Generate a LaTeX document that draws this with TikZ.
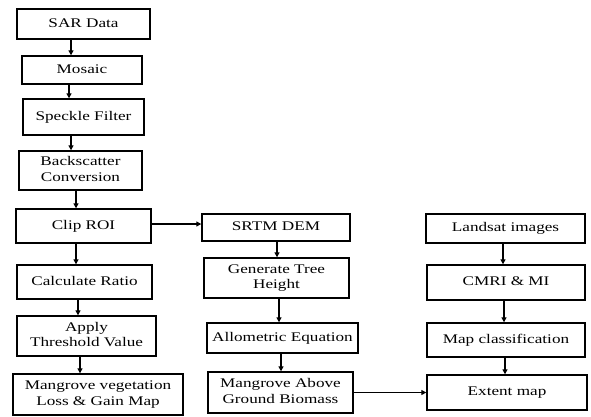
\documentclass[tikz,border=0pt]{standalone}
\usepackage{fontspec}
\setmainfont{Liberation Serif}
\usetikzlibrary{arrows.meta,calc}
\newcommand{\wtxt}[1]{\scalebox{1.3}[1]{\begin{tabular}{@{}c@{}}#1\end{tabular}}}
\begin{document}
\begin{tikzpicture}[x=1pt,y=-1pt,
  box/.style={draw=black,line width=1.4pt,inner sep=0pt,align=center,
    font=\rmfamily\fontsize{13.2}{15.5}\selectfont},
  arr/.style={line width=1.3pt,-{Triangle[length=5pt,width=5pt]}}]
\useasboundingbox[fill=white] (0,0) rectangle (591,416);
% left column
\node[box,minimum width=133pt,minimum height=30pt] (sar) at (83.5,24) {\wtxt{SAR Data}};
\node[box,minimum width=120pt,minimum height=28pt] (mos) at (82,70) {\wtxt{Mosaic}};
\node[box,minimum width=121pt,minimum height=36pt] (spk) at (83.5,117) {\wtxt{Speckle Filter}};
\node[box,minimum width=123pt,minimum height=39pt] (bsc) at (80.5,170.5) {\wtxt{Backscatter\\Conversion}};
\node[box,minimum width=135pt,minimum height=34pt] (clip) at (83.5,226) {\wtxt{Clip ROI}};
\node[box,minimum width=135pt,minimum height=34pt] (calc) at (84.5,282) {\wtxt{Calculate Ratio}};
\node[box,minimum width=139pt,minimum height=40pt] (thr) at (86.5,336) {\wtxt{Apply\\Threshold Value}};
\node[box,minimum width=170pt,minimum height=41pt] (veg) at (98,394.5) {\wtxt{Mangrove vegetation\\Loss \& Gain Map}};
% middle column
\node[box,minimum width=148pt,minimum height=27pt] (srtm) at (276,227.5) {\wtxt{SRTM DEM}};
\node[box,minimum width=145pt,minimum height=40pt] (gen) at (276.5,278) {\wtxt{Generate Tree\\Height}};
\node[box,minimum width=151pt,minimum height=30pt] (allo) at (282.5,338) {\wtxt{Allometric Equation}};
\node[box,minimum width=145pt,minimum height=41pt] (agb) at (280.5,392.5) {\wtxt{Mangrove Above\\Ground Biomass}};
% right column
\node[box,minimum width=159pt,minimum height=29pt] (land) at (505.5,228.5) {\wtxt{Landsat images}};
\node[box,minimum width=158pt,minimum height=35pt] (cmri) at (506,282.5) {\wtxt{CMRI \& MI}};
\node[box,minimum width=158pt,minimum height=34pt] (mcls) at (506,340) {\wtxt{Map classification}};
\node[box,minimum width=160pt,minimum height=35pt] (ext) at (507,392.5) {\wtxt{Extent map}};
% vertical arrows, left column
\draw[arr] ([xshift=-12.5pt]sar.south) -- ([xshift=-12.5pt]sar.south |- mos.north);
\draw[arr] ([xshift=-13pt]mos.south) -- ([xshift=-13pt]mos.south |- spk.north);
\draw[arr] ([xshift=-12.5pt]spk.south) -- ([xshift=-12.5pt]spk.south |- bsc.north);
\draw[arr] ([xshift=-4.5pt]bsc.south) -- ([xshift=-4.5pt]bsc.south |- clip.north);
\draw[arr] ([xshift=-7.5pt]clip.south) -- ([xshift=-7.5pt]clip.south |- calc.north);
\draw[arr] ([xshift=-6.5pt]calc.south) -- ([xshift=-6.5pt]calc.south |- thr.north);
\draw[arr] ([xshift=-6.5pt]thr.south) -- ([xshift=-6.5pt]thr.south |- veg.north);
% horizontal arrows
\draw[arr] ([yshift=2pt]clip.east) -- ([yshift=2pt]clip.east -| srtm.west);
\draw[arr] (agb.east) -- (agb.east -| ext.west);
% middle column
\draw[arr] ([xshift=1pt]srtm.south) -- ([xshift=1pt]srtm.south |- gen.north);
\draw[arr] ([xshift=2.5pt]gen.south) -- ([xshift=2.5pt]gen.south |- allo.north);
\draw[arr] ([xshift=-1.5pt]allo.south) -- ([xshift=-1.5pt]allo.south |- agb.north);
% right column
\draw[arr] ([xshift=-2.5pt]land.south) -- ([xshift=-2.5pt]land.south |- cmri.north);
\draw[arr] ([xshift=-2pt]cmri.south) -- ([xshift=-2pt]cmri.south |- mcls.north);
\draw[arr] ([xshift=-1pt]mcls.south) -- ([xshift=-1pt]mcls.south |- ext.north);
\end{tikzpicture}
\end{document}
